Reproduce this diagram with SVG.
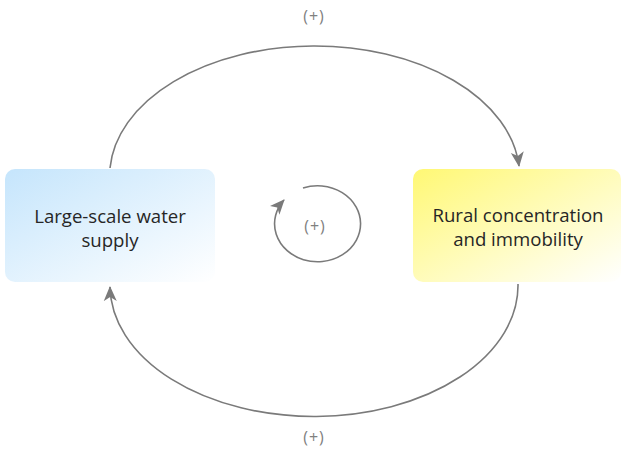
<svg xmlns="http://www.w3.org/2000/svg" width="623" height="450" viewBox="0 0 623 450">
  <style>
    .label { font-family: "Open Sans", "Noto Sans", sans-serif; font-size: 18.6px; fill: #262626; text-anchor: middle; }
    .sign { font-family: "Open Sans", "Noto Sans", sans-serif; font-size: 16px; fill: #808080; text-anchor: middle; letter-spacing: 1px; }
    .link { fill: none; stroke: #7a7a7a; stroke-width: 1.6; }
  </style>
  <defs>
    <linearGradient id="blueFill" x1="0" y1="0" x2="1" y2="1">
      <stop offset="0" stop-color="#c5e5fc"/>
      <stop offset="1" stop-color="#ffffff"/>
    </linearGradient>
    <linearGradient id="yellowFill" x1="0" y1="0" x2="1" y2="1">
      <stop offset="0" stop-color="#fff874"/>
      <stop offset="1" stop-color="#ffffff"/>
    </linearGradient>
    <marker id="arrow" viewBox="0 0 16 14" refX="14" refY="7" markerWidth="16" markerHeight="14" markerUnits="userSpaceOnUse" orient="auto">
      <path d="M0,0.5 L15,7 L0,13.5 L4,7 Z" fill="#7a7a7a"/>
    </marker>
  </defs>

  <g id="connectors">
    <path class="link" d="M110,168 A205,130 0 0 1 519,166" marker-end="url(#arrow)"/>
    <path class="link" d="M518,284 A204,131 0 0 1 110,287" marker-end="url(#arrow)"/>
    <path class="link" d="M303,188 A43,38 0 1 1 284,200" marker-end="url(#arrow)"/>
  </g>

  <g id="node-water-supply">
    <rect x="5" y="169" width="210" height="113" rx="10" fill="url(#blueFill)"/>
    <text class="label" x="110" y="223">Large-scale water</text>
    <text class="label" x="110" y="247">supply</text>
  </g>

  <g id="node-rural">
    <rect x="413" y="169" width="208" height="113" rx="10" fill="url(#yellowFill)"/>
    <text class="label" x="518" y="222">Rural concentration</text>
    <text class="label" x="518" y="246">and immobility</text>
  </g>

  <g id="polarity-labels">
    <text class="sign" x="314" y="22">(+)</text>
    <text class="sign" x="315" y="232">(+)</text>
    <text class="sign" x="314" y="443">(+)</text>
  </g>
</svg>
